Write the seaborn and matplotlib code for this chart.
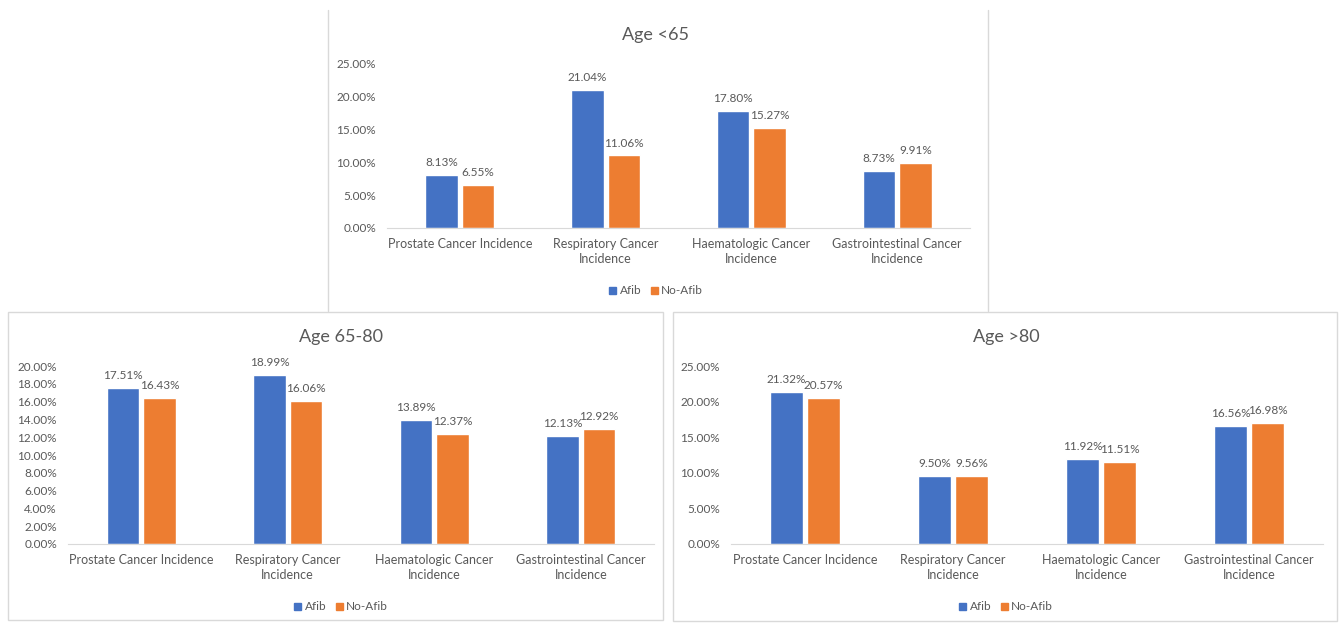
import numpy as np
import pandas as pd
import seaborn as sns
import matplotlib.pyplot as plt
from matplotlib.patches import Rectangle
from matplotlib.lines import Line2D
from matplotlib.ticker import FuncFormatter, MultipleLocator

# data (percent)
categories = ["Prostate Cancer Incidence", "Respiratory Cancer\nIncidence",
              "Haematologic Cancer\nIncidence", "Gastrointestinal Cancer\nIncidence"]
groups = ["Afib", "No-Afib"]

afib_lt65 = [8.13, 21.04, 17.80, 8.73]
noafib_lt65 = [6.55, 11.06, 15.27, 9.91]
afib_65_80 = [17.51, 18.99, 13.89, 12.13]
noafib_65_80 = [16.43, 16.06, 12.37, 12.92]
afib_gt80 = [21.32, 9.50, 11.92, 16.56]
noafib_gt80 = [20.57, 9.56, 11.51, 16.98]

titles = ["Age <65", "Age 65-80", "Age >80"]

sns.set_style("white")
plt.rcParams["font.family"] = ["Lato", "DejaVu Sans"]

GREY = "#595959"
palette = {"Afib": "#4472C4", "No-Afib": "#ED7D31"}
W, H = 1339, 623

fig = plt.figure(figsize=(13.39, 6.23), dpi=100)


def long_df(a, b):
    return pd.DataFrame({
        "category": categories * 2,
        "group": ["Afib"] * 4 + ["No-Afib"] * 4,
        "value": a + b,
    })


def px_axes(x0, x1, ybase, ytop):
    return fig.add_axes([x0 / W, 1 - ybase / H, (x1 - x0) / W, (ybase - ytop) / H])


panels = [
    (px_axes(387, 970, 228, 64), afib_lt65, noafib_lt65, 25, 5, 656, 35, 291),
    (px_axes(68, 654, 544, 366), afib_65_80, noafib_65_80, 20, 2, 341, 337, 607),
    (px_axes(731, 1323, 544, 366), afib_gt80, noafib_gt80, 25, 5, 1006, 337, 607),
]

for (ax, a, b, ymax, step, cx, ty, ly), title in zip(panels, titles):
    df = long_df(a, b)
    sns.barplot(data=df, x="category", y="value", hue="group", hue_order=groups,
                palette=palette, width=0.5, gap=0.11, saturation=1,
                errorbar=None, ax=ax, legend=False)
    for cont in ax.containers:
        ax.bar_label(cont, labels=[f"{v:.2f}%" for v in cont.datavalues],
                     padding=5, fontsize=8.5, color=GREY)
    ax.set_ylim(0, ymax)
    ax.set_xlim(-0.5, 3.5)
    ax.yaxis.set_major_locator(MultipleLocator(step))
    ax.yaxis.set_major_formatter(FuncFormatter(lambda v, p: f"{v:.2f}%"))
    ax.set_xlabel("")
    ax.set_ylabel("")
    ax.tick_params(axis="both", length=0, labelsize=8.5, colors=GREY)
    ax.tick_params(axis="y", pad=8)
    ax.tick_params(axis="x", pad=7, labelsize=9)
    for lbl in ax.get_xticklabels():
        lbl.set_linespacing(1.3)
    for s in ["top", "right", "left"]:
        ax.spines[s].set_visible(False)
    ax.spines["bottom"].set_color("#D9D9D9")
    fig.text(cx / W, 1 - ty / H, title, ha="center", va="center",
             fontsize=13, color=GREY)
    handles = [Rectangle((0, 0), 1, 1, color=palette[g]) for g in groups]
    fig.legend(handles, groups, loc="center", bbox_to_anchor=(cx / W, 1 - ly / H),
               ncol=2, frameon=False, fontsize=8.5, labelcolor=GREY,
               handlelength=0.6, handleheight=0.6, handletextpad=0.3,
               columnspacing=0.8)

# panel frames
frame = "#D9D9D9"
for x in [328, 988]:
    fig.add_artist(Line2D([x / W, x / W], [1 - 10 / H, 1 - 311 / H], color=frame, lw=1))
for (x0, y0, x1, y1) in [(8, 312, 663, 620), (673, 312, 1337, 621)]:
    fig.add_artist(Rectangle((x0 / W, 1 - y1 / H), (x1 - x0) / W, (y1 - y0) / H,
                             fill=False, edgecolor=frame, lw=1))

fig.savefig("out.png", dpi=100)
